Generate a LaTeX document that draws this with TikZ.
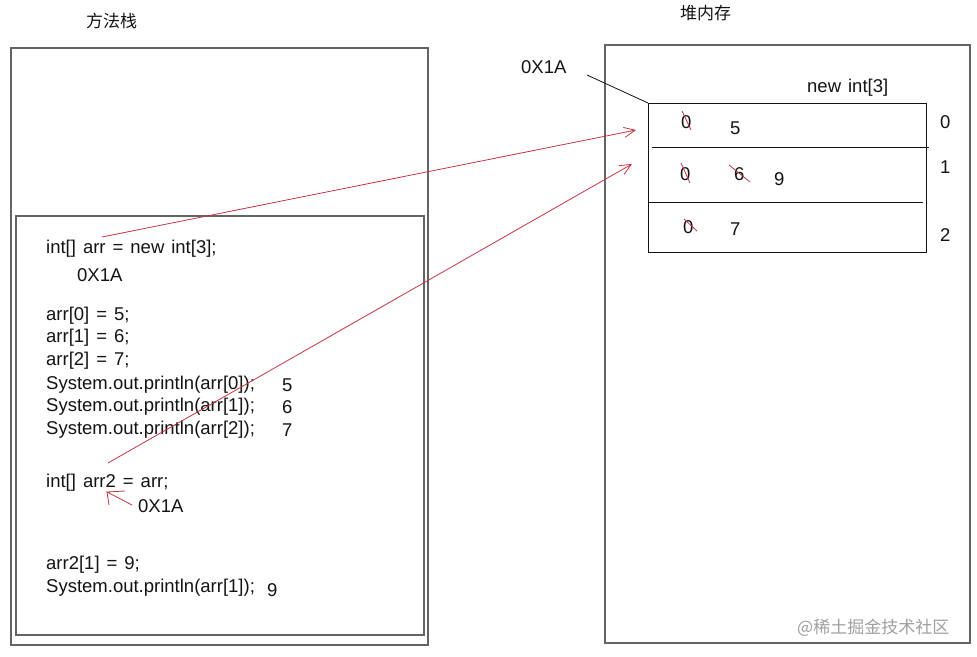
\documentclass[tikz,border=0pt]{standalone}
\usepackage{fontspec}
\setmainfont{Liberation Sans}
\newfontfamily\cjk{Noto Sans CJK SC}
\usetikzlibrary{arrows.meta}
\definecolor{penred}{RGB}{196,54,66}
\definecolor{boxgray}{RGB}{100,100,100}
\definecolor{inkblack}{RGB}{20,20,20}
\definecolor{wmgray}{RGB}{160,160,160}
\newcommand{\mycodefont}{\fontsize{18.5}{22}\selectfont\spaceskip=7pt plus 1pt\relax}
\tikzset{
  codetext/.style={anchor=west,inner sep=0pt,text=inkblack,font=\mycodefont},
  cjktext/.style={anchor=west,inner sep=0pt,text=inkblack,font=\cjk\fontsize{17}{20}\selectfont},
  framebox/.style={draw=boxgray,line width=1.1pt},
  redline/.style={draw=penred,line width=0.8pt},
  redarrow/.style={draw=penred,line width=0.8pt,-{Straight Barb[length=11pt,width=10pt,line width=0.8pt]}},
  strike/.style={draw=penred,line width=0.8pt}
}
\begin{document}
\begin{tikzpicture}[x=1pt,y=-1pt]
\useasboundingbox (0,0) rectangle (977,656);
\fill[white] (0,0) rectangle (977,656);
% frames
\draw[framebox] (11,48) rectangle (428,645);
\draw[framebox] (16,216) rectangle (424,635);
\draw[framebox] (605,45) rectangle (970,643);
\draw[draw=inkblack,line width=1pt] (648,103) rectangle (926,252);
\draw[draw=inkblack,line width=0.9pt] (652,147) -- (929,147);
\draw[draw=inkblack,line width=0.9pt] (648,202) -- (923,202);
% titles
\node[cjktext] (stack) at (86,21) {方法栈};
\node[cjktext] (heap) at (680,13) {堆内存};
\node[codetext] (addr) at (521,67) {0X1A};
\node[codetext] (newint) at (807,88) {new int[3]};
\coordinate (arrcorner) at (648,103);
\draw[draw=inkblack,line width=0.8pt] (587,75) -- (arrcorner);
% indexes
\node[codetext] (i0) at (940,122) {0};
\node[codetext] (i1) at (940,167) {1};
\node[codetext] (i2) at (940,235) {2};
% cells
\node[codetext] (c00) at (681,122) {0};
\node[codetext] (c01) at (730,128) {5};
\node[codetext] (c10) at (680,174) {0};
\node[codetext] (c11) at (734,174) {6};
\node[codetext] (c12) at (774,179) {9};
\node[codetext] (c20) at (683,227) {0};
\node[codetext] (c21) at (730,229) {7};
\draw[strike] (682,111) -- (691,130);
\draw[strike] (681,163) -- (690,183);
\draw[strike] (729,165) -- (750,182);
\draw[strike] (684,219) -- (697,231);
% code
\node[codetext] (l1) at (46,249) {int[] arr = new int[3];};
\node[codetext] (l2) at (77,275) {0X1A};
\node[codetext] (l3) at (46,316) {arr[0] = 5;};
\node[codetext] (l4) at (46,338) {arr[1] = 6;};
\node[codetext] (l5) at (46,361) {arr[2] = 7;};
\node[codetext] (l6) at (46,385) {System.out.println(arr[0]);};
\node[codetext] (o6) at (282,385) {5};
\node[codetext] (l7) at (46,407) {System.out.println(arr[1]);};
\node[codetext] (o7) at (282,407) {6};
\node[codetext] (l8) at (46,430) {System.out.println(arr[2]);};
\node[codetext] (o8) at (282,430) {7};
\node[codetext] (l9) at (46,483) {int[] arr2 = arr;};
\node[codetext] (l10) at (138,506) {0X1A};
\node[codetext] (l11) at (46,565) {arr2[1] = 9;};
\node[codetext] (l12) at (46,588) {System.out.println(arr[1]);};
\node[codetext] (o12) at (267,590) {9};
% red arrows
\coordinate (a1s) at (102,237);
\coordinate (a1e) at (636,130);
\coordinate (a2s) at (108,463);
\coordinate (a2e) at (632,164);
\draw[redarrow] (a1s) -- (a1e);
\draw[redarrow] (a2s) -- (a2e);
\coordinate (a3s) at (132,505);
\coordinate (a3e) at (107,492);
\draw[redline] (a3s) -- (a3e) -- (125,491);
\draw[redline] (a3e) -- (109,505);
% watermark
\node[anchor=west,inner sep=0pt,text=wmgray,font=\cjk\fontsize{17}{20}\selectfont] (wm) at (797,628) {@稀土掘金技术社区};
\end{tikzpicture}
\end{document}
